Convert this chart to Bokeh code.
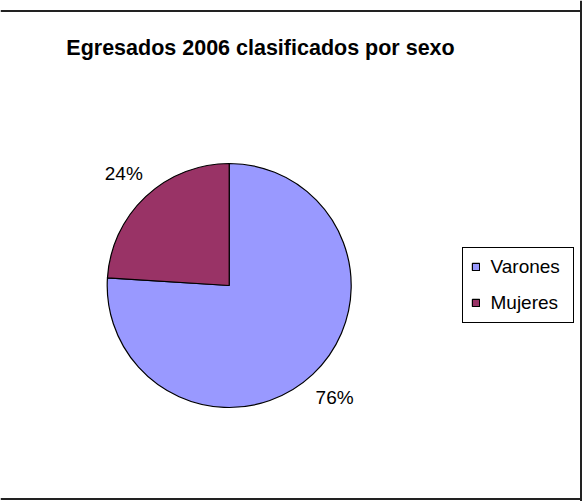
import math
from bokeh.plotting import figure
from bokeh.models import Range1d, Span, Legend, LegendItem, ColumnDataSource
from bokeh.core.properties import value
from bokeh.embed import file_html
from bokeh.resources import INLINE

title_text = "Egresados 2006 clasificados por sexo"
categories = ["Varones", "Mujeres"]
shares = [76, 24]
pct_labels = ["76%", "24%"]
colors = ["#9999FF", "#993366"]

W, H = 582, 501
# geometry (pixel-like data units, y measured up from the bottom)
CX, CY, R = 228.7, 216.0, 122.0
LABEL_R = 154.0

total = float(sum(shares))
starts, ends, lx, ly = [], [], [], []
acc = 0.0
for s in shares:
    a0 = math.pi / 2 - 2 * math.pi * acc / total
    acc += s
    a1 = math.pi / 2 - 2 * math.pi * acc / total
    starts.append(a0)
    ends.append(a1)
    mid = (a0 + a1) / 2
    lx.append(CX + LABEL_R * math.cos(mid))
    ly.append(CY + LABEL_R * math.sin(mid))

src = ColumnDataSource(dict(cat=categories, share=shares, start=starts, end=ends,
                            color=colors, lx=lx, ly=ly, lab=pct_labels))

p = figure(width=W, height=H, x_range=Range1d(0, W), y_range=Range1d(0, H),
           output_backend="svg", toolbar_location=None, min_border=0,
           x_axis_location=None, y_axis_location=None, outline_line_color=None)
p.grid.visible = False
p.background_fill_color = "white"
p.border_fill_color = "white"

r = p.wedge(x=CX, y=CY, radius=R, start_angle="start", end_angle="end",
            direction="clock", fill_color="color", line_color="black",
            line_width=1.2, source=src)

p.text(x="lx", y="ly", text="lab", source=src, text_align="center",
       text_baseline="middle", text_font=value("Liberation Sans"),
       text_font_size="19px", text_color="black")

p.text(x=[260], y=[453.5], text=[title_text], text_align="center",
       text_baseline="alphabetic", text_font=value("Liberation Sans"),
       text_font_size="21.5px", text_font_style="bold", text_color="black")

legend = Legend(items=[LegendItem(label=c, renderers=[r], index=i)
                       for i, c in enumerate(categories)],
                location=(461.5, 178.5), border_line_color="black",
                border_line_width=1, border_line_alpha=1.0,
                background_fill_color="white", background_fill_alpha=1.0,
                padding=8, spacing=14, glyph_width=9, glyph_height=9,
                label_standoff=11, label_text_font="Liberation Sans",
                label_text_font_size="19px", label_text_color="black",
                label_height=22, label_width=74, margin=0)
p.add_layout(legend)

for loc, dim in [(490.5, "width"), (2.5, "width"), (580.5, "height")]:
    p.add_layout(Span(location=loc, dimension=dim, line_color="#222222", line_width=2))

open("out.html", "w").write(file_html(p, INLINE))
